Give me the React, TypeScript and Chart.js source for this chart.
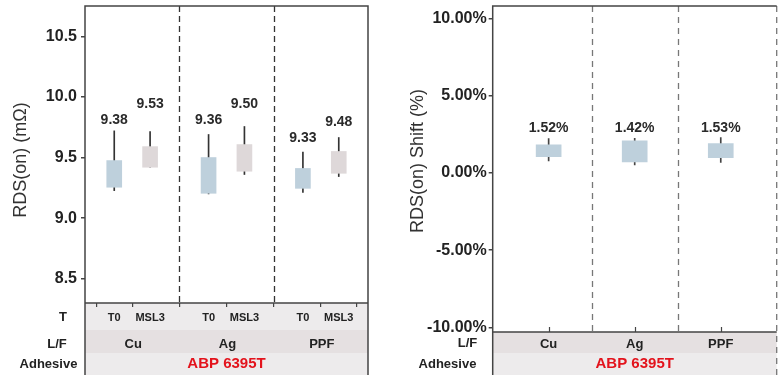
import React, { useEffect, useRef } from 'react';
import { Chart, registerables } from 'chart.js';
Chart.register(...registerables);

// ---------- data ----------
const leadFrames = ['Cu', 'Ag', 'PPF'];
const conditions = ['T0', 'MSL3'];
const adhesive = 'ABP 6395T';

// Left: RDS(on) in mΩ, order Cu-T0, Cu-MSL3, Ag-T0, Ag-MSL3, PPF-T0, PPF-MSL3
const rdsBoxLow = [9.255, 9.42, 9.205, 9.387, 9.246, 9.37];
const rdsBoxHigh = [9.475, 9.59, 9.5, 9.607, 9.41, 9.55];
const rdsWhiskerLow = [9.227, 9.42, 9.2, 9.36, 9.213, 9.343];
const rdsWhiskerHigh = [9.72, 9.715, 9.69, 9.756, 9.545, 9.665];
const rdsMeanLabels = ['9.38', '9.53', '9.36', '9.50', '9.33', '9.48'];
const rdsLabelAt = [9.81, 9.94, 9.81, 9.94, 9.66, 9.79];
const rdsTicks = [8.5, 9.0, 9.5, 10.0, 10.5];

// Right: RDS(on) shift in %
const shiftBoxLow = [1.05, 0.71, 0.99];
const shiftBoxHigh = [1.81, 2.07, 1.9];
const shiftWhiskerLow = [0.78, 0.52, 0.67];
const shiftWhiskerHigh = [2.22, 2.24, 2.28];
const shiftMeanLabels = ['1.52%', '1.42%', '1.53%'];
const shiftLabelAt = [2.87, 2.87, 2.87];
const shiftTicks = [-10, -5, 0, 5, 10];

// ---------- styling ----------
const FONT = "'Liberation Sans', Arial, sans-serif";
const BLUE = '#BED0DC';
const PINK = '#DED8D9';
const ROW_LIGHT = '#EDEBEC';
const ROW_DARK = '#E5E0E1';
const TEXT = '#222222';
const BORDER = '#444444';
const RED = '#E3131C';

const leftX = leadFrames.flatMap((_, g) => conditions.map((__, c) => g + (c === 0 ? -0.19 : 0.19)));
const rightX = leadFrames.map((_, g) => g);

function txt(ctx: CanvasRenderingContext2D, s: string, x: number, y: number, font: string, color = TEXT, align: CanvasTextAlign = 'center') {
  ctx.font = font;
  ctx.fillStyle = color;
  ctx.textAlign = align;
  ctx.textBaseline = 'middle';
  ctx.fillText(s, x, y);
}

function vTitle(ctx: CanvasRenderingContext2D, s: string, x: number, y: number) {
  ctx.save();
  ctx.translate(x, y);
  ctx.rotate(-Math.PI / 2);
  txt(ctx, s, 0, 0, `18px ${FONT}`, '#333333');
  ctx.restore();
}

const leftPlugin = {
  id: 'leftDecor',
  beforeDraw(chart: any) {
    const { ctx, chartArea: a, scales } = chart;
    const x = scales.x;
    const w = a.right - a.left;
    ctx.save();
    ctx.fillStyle = ROW_LIGHT;
    ctx.fillRect(a.left, a.bottom, w, x.bottom - a.bottom);
    ctx.fillStyle = ROW_DARK;
    ctx.fillRect(a.left, x.bottom, w, 23);
    ctx.fillStyle = ROW_LIGHT;
    ctx.fillRect(a.left, x.bottom + 23, w, chart.height - x.bottom - 23);
    ctx.restore();
  },
  afterDatasetsDraw(chart: any) {
    const { ctx, scales } = chart;
    ctx.save();
    rdsMeanLabels.forEach((l, i) => {
      txt(ctx, l, scales.x.getPixelForValue(leftX[i]), scales.y.getPixelForValue(rdsLabelAt[i]), `bold 14px ${FONT}`, '#2a2a2a');
    });
    ctx.restore();
  },
  afterDraw(chart: any) {
    const { ctx, chartArea: a, scales } = chart;
    const x = scales.x;
    ctx.save();
    ctx.strokeStyle = '#333333';
    ctx.lineWidth = 1.3;
    ctx.setLineDash([6, 4]);
    [0.5, 1.5].forEach((v) => {
      const px = Math.round(x.getPixelForValue(v)) + 0.5;
      ctx.beginPath();
      ctx.moveTo(px, a.top);
      ctx.lineTo(px, a.bottom);
      ctx.stroke();
    });
    ctx.setLineDash([]);
    ctx.strokeStyle = BORDER;
    ctx.lineWidth = 1.5;
    ctx.beginPath();
    ctx.moveTo(a.left, chart.height);
    ctx.lineTo(a.left, a.top);
    ctx.lineTo(a.right, a.top);
    ctx.lineTo(a.right, chart.height);
    ctx.moveTo(a.left, a.bottom);
    ctx.lineTo(a.right, a.bottom);
    ctx.stroke();
    txt(ctx, 'T', 63, 317, `bold 13px ${FONT}`);
    txt(ctx, 'L/F', 57, x.bottom + 14, `bold 13px ${FONT}`);
    txt(ctx, 'Adhesive', 48.5, x.bottom + 34, `bold 13px ${FONT}`);
    leadFrames.forEach((g, i) => {
      txt(ctx, g, x.getPixelForValue(i) + 1, x.bottom + 14, `bold 13px ${FONT}`);
    });
    txt(ctx, adhesive, (a.left + a.right) / 2, x.bottom + 34, `bold 15px ${FONT}`, RED);
    vTitle(ctx, 'RDS(on) (mΩ)', 21, 160);
    ctx.restore();
  },
};

const rightPlugin = {
  id: 'rightDecor',
  beforeDraw(chart: any) {
    const { ctx, chartArea: a, scales } = chart;
    const x = scales.x;
    const w = a.right - a.left;
    ctx.save();
    ctx.fillStyle = ROW_DARK;
    ctx.fillRect(a.left, a.bottom, w, x.bottom - a.bottom);
    ctx.fillStyle = ROW_LIGHT;
    ctx.fillRect(a.left, x.bottom, w, chart.height - x.bottom);
    ctx.restore();
  },
  afterDatasetsDraw(chart: any) {
    const { ctx, scales } = chart;
    ctx.save();
    shiftMeanLabels.forEach((l, i) => {
      txt(ctx, l, scales.x.getPixelForValue(rightX[i]), scales.y.getPixelForValue(shiftLabelAt[i]), `bold 14px ${FONT}`, '#2a2a2a');
    });
    ctx.restore();
  },
  afterDraw(chart: any) {
    const { ctx, chartArea: a, scales } = chart;
    const x = scales.x;
    ctx.save();
    ctx.strokeStyle = '#777777';
    ctx.lineWidth = 1.3;
    ctx.setLineDash([6, 5]);
    [0.5, 1.5].forEach((v) => {
      const px = Math.round(x.getPixelForValue(v)) + 0.5;
      ctx.beginPath();
      ctx.moveTo(px, a.top);
      ctx.lineTo(px, a.bottom);
      ctx.stroke();
    });
    ctx.beginPath();
    ctx.moveTo(a.right, a.top);
    ctx.lineTo(a.right, chart.height);
    ctx.stroke();
    ctx.setLineDash([]);
    ctx.strokeStyle = BORDER;
    ctx.lineWidth = 1.5;
    ctx.beginPath();
    ctx.moveTo(a.left, chart.height);
    ctx.lineTo(a.left, a.top);
    ctx.lineTo(a.right, a.top);
    ctx.moveTo(a.left, a.bottom);
    ctx.lineTo(a.right, a.bottom);
    ctx.stroke();
    ctx.lineWidth = 1.2;
    rightX.forEach((v) => {
      const px = Math.round(x.getPixelForValue(v)) + 0.5;
      ctx.beginPath();
      ctx.moveTo(px, a.bottom);
      ctx.lineTo(px, a.bottom - 5);
      ctx.stroke();
    });
    txt(ctx, 'L/F', 77.5, (a.bottom + x.bottom) / 2 + 1, `bold 13px ${FONT}`);
    txt(ctx, 'Adhesive', 57.5, x.bottom + 11, `bold 13px ${FONT}`);
    txt(ctx, adhesive, (a.left + a.right) / 2, x.bottom + 11, `bold 15px ${FONT}`, RED);
    vTitle(ctx, 'RDS(on) Shift (%)', 28, 161);
    ctx.restore();
  },
};

function makeLeft(canvas: HTMLCanvasElement) {
  return new Chart(canvas, {
    type: 'bar',
    data: {
      datasets: [
        {
          label: 'box',
          data: leftX.map((xv, i) => ({ x: xv, y: [rdsBoxLow[i], rdsBoxHigh[i]] })) as any,
          backgroundColor: leftX.map((_, i) => (i % 2 === 0 ? BLUE : PINK)),
          barThickness: 15,
          grouped: false,
          order: 0,
        },
        {
          label: 'whisker',
          data: leftX.map((xv, i) => ({ x: xv, y: [rdsWhiskerLow[i], rdsWhiskerHigh[i]] })) as any,
          backgroundColor: '#333333',
          barThickness: 1,
          grouped: false,
          order: 1,
        },
      ],
    },
    options: {
      animation: false,
      responsive: false,
      devicePixelRatio: 1,
      layout: { padding: { top: 6, bottom: 45, right: 22, left: 0 } },
      plugins: { legend: { display: false }, tooltip: { enabled: false } },
      scales: {
        x: {
          type: 'linear',
          min: -0.5,
          max: 2.5,
          offset: false,
          border: { display: false },
          grid: { drawOnChartArea: false, tickLength: 4, color: BORDER, lineWidth: 1.2 },
          afterBuildTicks: (s: any) => {
            s.ticks = leftX.map((v) => ({ value: v }));
          },
          afterFit: (s: any) => {
            s.height = 27;
            s.paddingLeft = 0;
            s.paddingRight = 0;
          },
          ticks: {
            autoSkip: false,
            maxRotation: 0,
            padding: 4,
            color: TEXT,
            font: { family: FONT, size: 11, weight: 'bold' },
            callback: (_v: any, i: number) => conditions[i % 2],
          },
        },
        y: {
          type: 'linear',
          min: 8.3,
          max: 10.75,
          border: { display: false },
          grid: { drawOnChartArea: false, tickLength: 4, color: BORDER, lineWidth: 1.5 },
          afterBuildTicks: (s: any) => {
            s.ticks = rdsTicks.map((v) => ({ value: v }));
          },
          afterFit: (s: any) => {
            s.width = 85;
            s.paddingTop = 0;
            s.paddingBottom = 0;
          },
          ticks: {
            padding: 4,
            color: TEXT,
            font: { family: FONT, size: 16, weight: 'bold' },
            callback: (v: any) => Number(v).toFixed(1),
          },
        },
      },
    } as any,
    plugins: [leftPlugin],
  });
}

function makeRight(canvas: HTMLCanvasElement) {
  return new Chart(canvas, {
    type: 'bar',
    data: {
      datasets: [
        {
          label: 'box',
          data: rightX.map((xv, i) => ({ x: xv, y: [shiftBoxLow[i], shiftBoxHigh[i]] })) as any,
          backgroundColor: BLUE,
          barThickness: 25,
          grouped: false,
          order: 0,
        },
        {
          label: 'whisker',
          data: rightX.map((xv, i) => ({ x: xv, y: [shiftWhiskerLow[i], shiftWhiskerHigh[i]] })) as any,
          backgroundColor: '#444444',
          barThickness: 1,
          grouped: false,
          order: 1,
        },
      ],
    },
    options: {
      animation: false,
      responsive: false,
      devicePixelRatio: 1,
      layout: { padding: { top: 6, bottom: 22, right: 4.3, left: 0 } },
      plugins: { legend: { display: false }, tooltip: { enabled: false } },
      scales: {
        x: {
          type: 'linear',
          min: -0.65,
          max: 2.65,
          offset: false,
          border: { display: false },
          grid: { drawOnChartArea: false, drawTicks: false },
          afterBuildTicks: (s: any) => {
            s.ticks = rightX.map((v) => ({ value: v }));
          },
          afterFit: (s: any) => {
            s.height = 21;
            s.paddingLeft = 0;
            s.paddingRight = 0;
          },
          ticks: {
            autoSkip: false,
            maxRotation: 0,
            padding: 5,
            color: TEXT,
            font: { family: FONT, size: 13, weight: 'bold' },
            callback: (_v: any, i: number) => leadFrames[i],
          },
        },
        y: {
          type: 'linear',
          min: -10.3,
          max: 10.8,
          border: { display: false },
          grid: { drawOnChartArea: false, tickLength: 4, color: BORDER, lineWidth: 1.5 },
          afterBuildTicks: (s: any) => {
            s.ticks = shiftTicks.map((v) => ({ value: v }));
          },
          afterFit: (s: any) => {
            s.width = 102.7;
            s.paddingTop = 0;
            s.paddingBottom = 0;
          },
          ticks: {
            padding: 2,
            color: TEXT,
            font: { family: FONT, size: 16, weight: 'bold' },
            callback: (v: any) => Number(v).toFixed(2) + '%',
          },
        },
      },
    } as any,
    plugins: [rightPlugin],
  });
}

export default function App() {
  const leftRef = useRef<HTMLCanvasElement>(null);
  const rightRef = useRef<HTMLCanvasElement>(null);
  useEffect(() => {
    const l = makeLeft(leftRef.current!);
    const r = makeRight(rightRef.current!);
    return () => {
      l.destroy();
      r.destroy();
    };
  }, []);
  return (
    <div style={{ position: 'fixed', left: 0, top: 0, width: 781, height: 375, background: '#fff' }}>
      <canvas ref={leftRef} width={390} height={375} style={{ position: 'absolute', left: 0, top: 0, width: 390, height: 375 }} />
      <canvas ref={rightRef} width={391} height={375} style={{ position: 'absolute', left: 390, top: 0, width: 391, height: 375 }} />
    </div>
  );
}
